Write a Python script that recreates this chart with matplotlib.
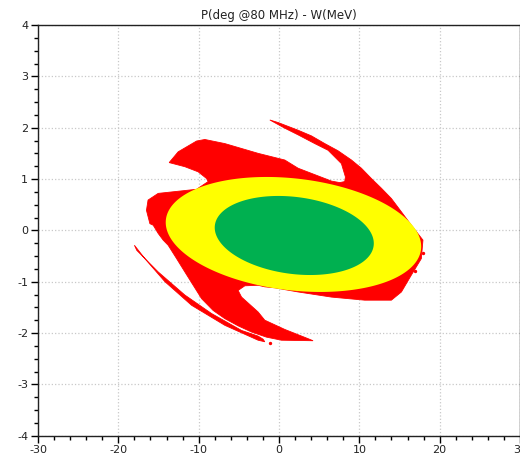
import numpy as np
import matplotlib
matplotlib.use("Agg")
import matplotlib.pyplot as plt

plt.rcParams["axes.unicode_minus"] = False
plt.rcParams["font.family"] = ["DejaVu Sans"]

# red particle distribution, outline of main body (phase deg, energy MeV)
red_x = [-13.67, -12.55, -10.26, -9.23, -6.74, -2.60, 0.72, 2.38, 5.70, 6.53,
         7.56, 8.18, 8.27, 7.77, 6.11, 4.45, 2.38, 0.72, -1.14, -0.11,
         2.38, 4.04, 5.70, 7.35, 9.02, 10.26, 11.50, 12.75, 13.99, 15.24,
         16.48, 17.92, 17.72, 16.48, 15.24, 13.99, 10.67, 6.53, 2.38, -0.52,
         -1.77, -2.60, -4.25, -5.09, -4.66, -2.60, -1.77, 0.72, 3.62, 4.24,
         0.31, -1.56, -3.42, -5.09, -6.74, -8.20, -9.64, -10.68, -11.72, -12.75,
         -13.80, -14.42, -15.04, -15.66, -16.07, -16.50, -16.30, -15.04, -10.26, -8.82,
         -9.02, -10.06, -11.72]
red_y = [1.32, 1.53, 1.74, 1.77, 1.69, 1.50, 1.37, 1.21, 1.01, 0.96,
         0.93, 0.95, 1.04, 1.30, 1.56, 1.69, 1.86, 1.99, 2.15, 2.10,
         1.95, 1.84, 1.69, 1.55, 1.37, 1.21, 1.01, 0.82, 0.62, 0.36,
         0.10, -0.19, -0.55, -0.87, -1.20, -1.36, -1.36, -1.30, -1.20, -1.12,
         -1.10, -1.07, -1.08, -1.17, -1.30, -1.59, -1.75, -1.93, -2.11, -2.15,
         -2.14, -2.08, -1.98, -1.86, -1.72, -1.56, -1.33, -1.07, -0.81, -0.55,
         -0.29, -0.19, -0.06, 0.10, 0.13, 0.39, 0.59, 0.72, 0.80, 0.95,
         1.01, 1.14, 1.24]

# thin separate filament at lower left
strip_x = [-18.00, -16.70, -14.20, -10.88, -6.74, -2.60, -1.77,
           -1.98, -2.60, -4.66, -8.40, -11.72, -15.04, -17.70]
strip_y = [-0.29, -0.55, -1.00, -1.46, -1.85, -2.14, -2.17,
           -2.12, -2.06, -1.95, -1.62, -1.26, -0.81, -0.39]

# stray particles
dots_x = [-1.14, 17.9, 16.9]
dots_y = [-2.19, -0.45, -0.80]

# acceptance ellipses: yellow (outer), green (inner)
ell_cx = [1.80, 1.90]
ell_cy = [-0.08, -0.10]
ell_dx = [15.9, 9.9]
ell_dy = [1.12, 0.77]
ell_corr = [-0.21, -0.20]
ell_colors = ["#ffff00", "#00b050"]

fig = plt.figure(figsize=(5.2, 4.59), dpi=100)
ax = fig.add_axes([38 / 520, 1 - 435.7 / 459, 482 / 520, 410.7 / 459])

ax.fill(red_x, red_y, color="#ff0000", lw=0.6, ec="#ff0000", zorder=2)
ax.fill(strip_x, strip_y, color="#ff0000", lw=0.6, ec="#ff0000", zorder=2)
ax.scatter(dots_x, dots_y, s=2, color="#ff0000", zorder=2)

t = np.linspace(0, 2 * np.pi, 300)
for cx, cy, dx, dy, c, col in zip(ell_cx, ell_cy, ell_dx, ell_dy, ell_corr, ell_colors):
    ex = cx + dx * np.cos(t)
    ey = cy + dy * (c * np.cos(t) + np.sqrt(1 - c ** 2) * np.sin(t))
    ax.fill(ex, ey, color=col, lw=0, zorder=3)

ax.set_xlim(-30, 30)
ax.set_ylim(-4, 4)
ax.set_xticks(np.arange(-30, 31, 10))
ax.set_yticks(np.arange(-4, 5, 1))
ax.set_xticks(np.arange(-30, 31, 2), minor=True)
ax.set_yticks(np.arange(-4, 4.01, 0.25), minor=True)
ax.grid(True, which="major", color="#c8c8c8", ls=":", lw=0.9, zorder=0)
ax.set_axisbelow(True)
ax.tick_params(which="major", direction="out", length=5, width=1, labelsize=8,
               labelcolor="#222222", pad=2)
ax.tick_params(which="minor", direction="out", length=3, width=1)
for s in ax.spines.values():
    s.set_linewidth(1)
    s.set_color("#222222")

ax.set_title("P(deg @80 MHz) - W(MeV)", fontsize=8.5, color="#222222", pad=4)

fig.savefig("out.png", dpi=100)
